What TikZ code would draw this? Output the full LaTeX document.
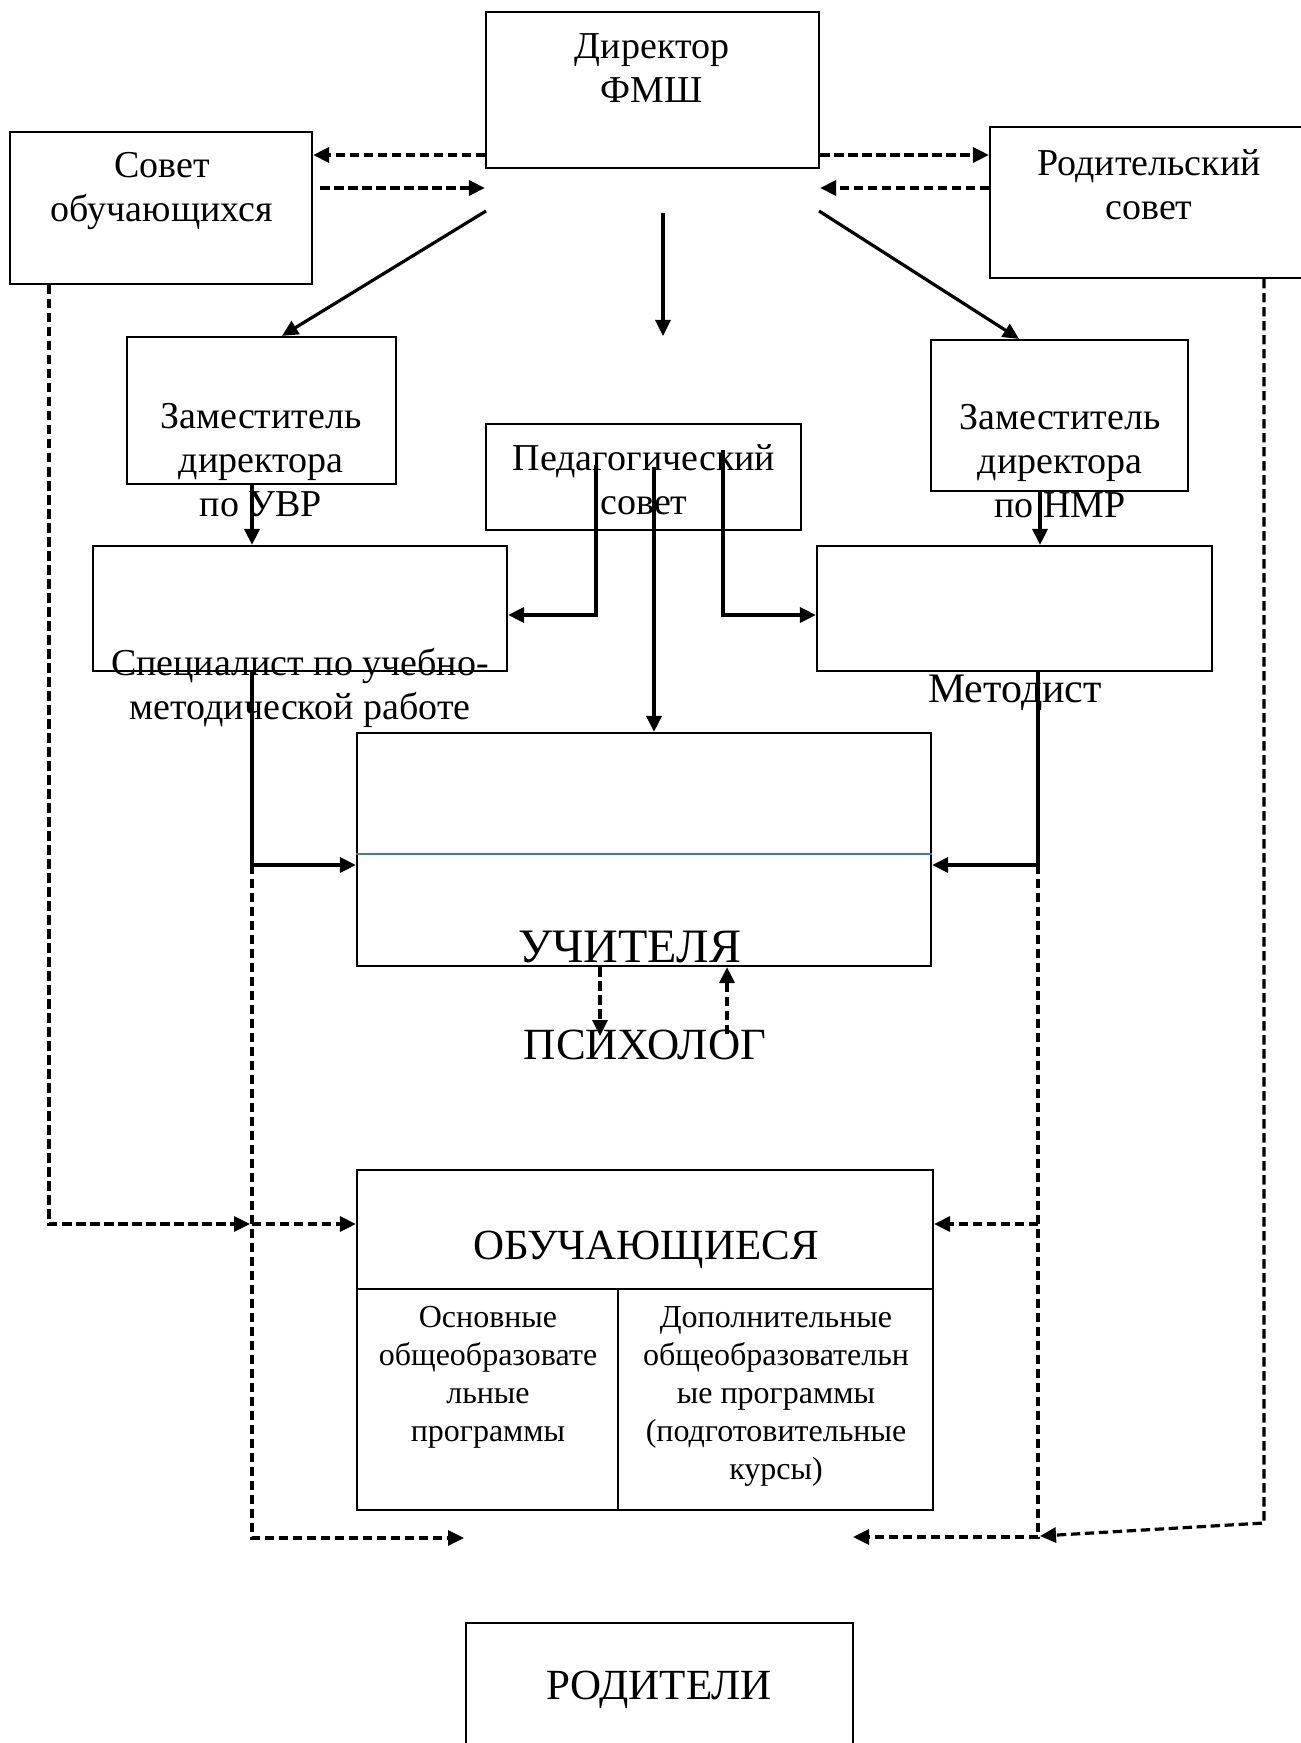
\documentclass[tikz,border=0pt]{standalone}
\usepackage{fontspec}
\setmainfont{Liberation Serif}
\usetikzlibrary{arrows.meta,fit}
\definecolor{accentblue}{RGB}{68,114,196}
\begin{document}
\begin{tikzpicture}[x=0.5pt,y=-0.5pt,
  box/.style={draw,line width=1.1pt,inner sep=0pt},
  arr/.style={line width=1.6pt,-{Triangle[length=8pt,width=7.5pt]}},
  darr/.style={arr,dash pattern=on 4.7pt off 2.3pt},
  bigtxt/.style={font=\fontsize{19}{22}\selectfont,align=center,inner sep=0pt},
  captxt/.style={font=\fontsize{21.5}{24}\selectfont,inner sep=0pt},
  smalltxt/.style={font=\fontsize{16}{19}\selectfont,align=center,inner sep=0pt}]
\useasboundingbox (0,0) rectangle (1300,1743);
\fill[white] (0,0) rectangle (1300,1743);

% boxes
\node[box,fit={(486,12)(819,168)}] (dir) {};
\node[box,fit={(10,132)(312,284)}] (sov) {};
\node[box,fit={(990,127)(1320,278)}] (rod) {};
\node[box,fit={(127,337)(396,484)}] (zuvr) {};
\node[box,fit={(931,340)(1188,491)}] (znmr) {};
\node[box,fit={(486,424)(801,530)}] (ped) {};
\node[box,fit={(93,546)(507,671)}] (spec) {};
\node[box,fit={(817,546)(1212,671)}] (met) {};
\node[box,fit={(357,733)(931,966)}] (uch) {};
\node[box,fit={(357,1170)(933,1510)}] (obuch) {};
\node[box,fit={(466,1623)(853,1770)}] (rodi) {};

% inner lines
\draw[accentblue,line width=0.8pt] (uch.west |- 0,854) -- (uch.east |- 0,854);
\draw[line width=1.1pt] (obuch.west |- 0,1289) -- (obuch.east |- 0,1289);
\draw[line width=1.1pt] (618,1289) -- (618,0 |- obuch.south);

% texts
\node[bigtxt] (tdir) at (652,68) {Директор\\ФМШ};
\node[bigtxt] (tsov) at (162,191) {Совет\\обучающихся};
\node[bigtxt] (trod) at (1149,185) {Родительский\\совет};
\node[bigtxt] (tzuvr) at (261,460) {Заместитель\\директора\\по УВР};
\node[bigtxt] (tznmr) at (1060,461) {Заместитель\\директора\\по НМР};
\node[bigtxt] (tped) at (644,480) {Педагогический\\совет};
\node[bigtxt] (tspec) at (300,688) {Специалист по учебно-\\методической работе};
\node[font=\fontsize{21}{24}\selectfont,inner sep=0pt] (tmet) at (1015,693) {Методист};
\node[font=\fontsize{24}{27}\selectfont,inner sep=0pt] (tuch) at (630,947) {УЧИТЕЛЯ};
\node[font=\fontsize{22.3}{25}\selectfont,inner sep=0pt] (tpsy) at (645,1045) {ПСИХОЛОГ};
\node[captxt] (tobu) at (646,1250) {ОБУЧАЮЩИЕСЯ};
\node[captxt] (trodi) at (659,1690) {РОДИТЕЛИ};
\node[smalltxt] (tosn) at (488,1377) {Основные\\общеобразовате\\льные\\программы};
\node[smalltxt] (tdop) at (776,1396) {Дополнительные\\общеобразовательн\\ые программы\\(подготовительные\\курсы)};

% free points
\coordinate (dl) at (486,211);
\coordinate (dc) at (663,213);
\coordinate (dcend) at (663,336);
\coordinate (dr) at (819,211);
\coordinate (pl) at (596,465);
\coordinate (pc) at (654,467);
\coordinate (pr) at (723,450);
\coordinate (psyL) at (600,1036);
\coordinate (psyR) at (727,1034);
\coordinate (rodL) at (464,1538);
\coordinate (rodR) at (853,1537);

% director <-> councils
\draw[darr] (dir.west |- 0,155) -- (sov.east |- 0,155);
\draw[darr,shorten <=3.5pt] (sov.east |- 0,188) -- (dir.west |- 0,188);
\draw[darr] (dir.east |- 0,155) -- (rod.west |- 0,155);
\draw[darr] (rod.west |- 0,188) -- (dir.east |- 0,188);

% director -> deputies / centre
\draw[arr] (dl) -- (282,0 |- zuvr.north);
\draw[arr] (dr) -- (1019,0 |- znmr.north);
\draw[arr] (dc) -- (dcend);

% deputies -> specialists
\draw[arr] (252,0 |- zuvr.south) -- (252,0 |- spec.north);
\draw[arr] (1040,0 |- znmr.south) -- (1040,0 |- met.north);

% pedagogical council
\draw[arr] (pl) -- (596,615) -- (spec.east |- 0,615);
\draw[arr] (pc) -- (654,0 |- uch.north);
\draw[arr] (pr) -- (723,615) -- (met.west |- 0,615);

% specialists -> teachers
\draw[arr] (252,0 |- spec.south) -- (252,865) -- (uch.west |- 0,865);
\draw[arr] (1038,0 |- met.south) -- (1038,865) -- (uch.east |- 0,865);

% teachers <-> psychologist
\draw[darr] (600,0 |- uch.south) -- (psyL);
\draw[darr] (psyR) -- (727,0 |- uch.south);

% dashed lines to students and parents
\draw[darr] (49,0 |- sov.south) -- (49,1224) -- (250,1224);
\draw[darr] (252,865) -- (252,1538) -- (rodL);
\draw[darr] (252,1224) -- (obuch.west |- 0,1224);
\draw[darr] (1038,865) -- (1038,1537) -- (rodR);
\draw[darr] (1038,1224) -- (obuch.east |- 0,1224);
\draw[darr] (1264,0 |- rod.south) -- (1264,1523) -- (1040,1536);
\end{tikzpicture}
\end{document}
